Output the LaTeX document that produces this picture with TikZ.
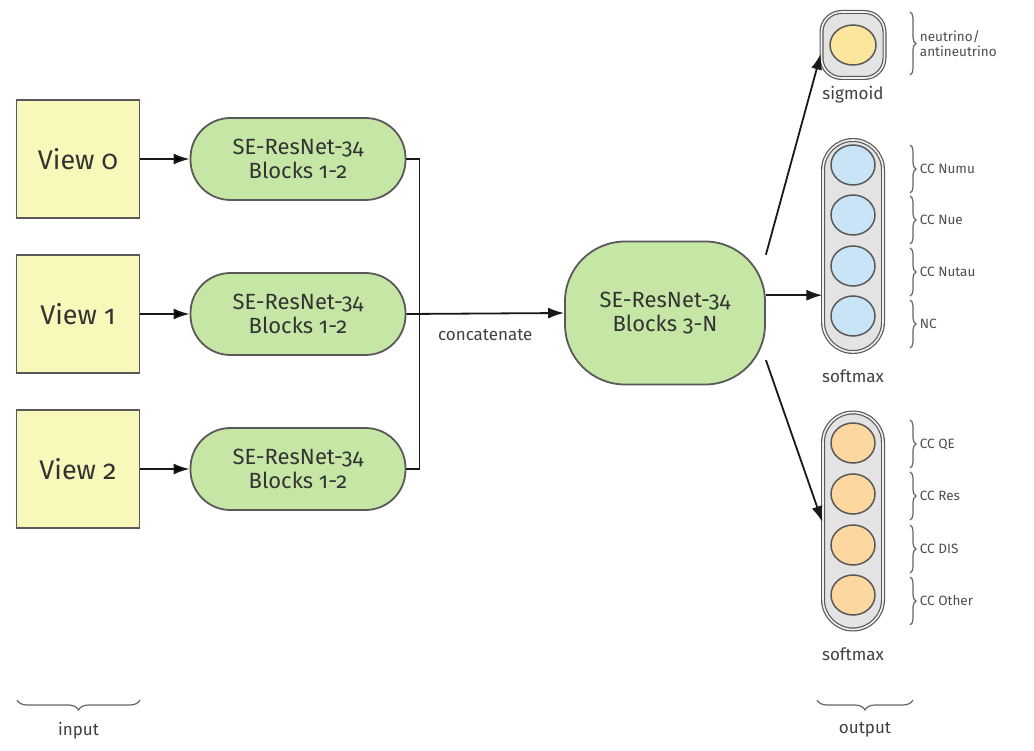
\documentclass[tikz,border=0pt]{standalone}
\usepackage{fontspec}
\setmainfont{Fira Sans}[Numbers=OldStyle]
\usetikzlibrary{arrows,arrows.meta,positioning,shapes.geometric,decorations.pathreplacing}
\definecolor{viewfill}{HTML}{F8F8BA}
\definecolor{blockfill}{HTML}{C6E6A6}
\definecolor{nufill}{HTML}{C8E4F6}
\definecolor{intfill}{HTML}{FCD7A0}
\definecolor{sigfill}{HTML}{FCE59C}
\tikzstyle{view}=[draw=black!65,fill=viewfill,line width=1.8pt,minimum width=123pt,minimum height=118pt,text=black!80,font=\fontsize{27}{29}\selectfont]
\tikzstyle{block}=[draw=black!65,fill=blockfill,line width=1.8pt,rounded corners=40pt,minimum width=215pt,minimum height=82pt,align=center,text=black!80,font=\fontsize{22}{24}\selectfont]
\tikzstyle{capsule}=[draw=black!65,line width=1.2pt,double=black!6,double distance=1.6pt,fill=black!11,rounded corners=30pt,minimum width=60pt]
\tikzstyle{dot}=[ellipse,draw=black!65,line width=1.5pt,minimum width=44pt,minimum height=40pt,inner sep=0pt]
\tikzstyle{lbl}=[text=black!75,font=\fontsize{17}{19}\selectfont]
\tikzstyle{cls}=[text=black!70,font=\fontsize{13.5}{15}\selectfont,align=left]
\tikzstyle{brc}=[draw=black!60,line width=1.2pt,decorate,decoration={brace,amplitude=6pt}]
\tikzstyle{link}=[draw=black!90,line width=1.8pt,>={Latex[length=16pt,width=11pt]}]

\begin{document}
\begin{tikzpicture}[x=1pt,y=-1pt,node distance=155pt]
  \useasboundingbox (0,0) rectangle (1034,751);

  % inputs
  \node[view] (v0) at (78,159) {View 0};
  \node[view] (v1) [below of=v0] {View 1};
  \node[view] (v2) [below of=v1] {View 2};

  \node[block] (b0) [right of=v0,node distance=220pt] {SE-ResNet-34\\Blocks 1-2};
  \node[block] (b1) [right of=v1,node distance=220pt] {SE-ResNet-34\\Blocks 1-2};
  \node[block] (b2) [right of=v2,node distance=220pt] {SE-ResNet-34\\Blocks 1-2};

  \node[block,minimum width=200pt,minimum height=143pt,rounded corners=60pt] (mid) at (665,313) {SE-ResNet-34\\Blocks 3-N};

  % outputs
  \node[capsule,minimum height=66pt,minimum width=63pt,rounded corners=20pt] (sig) at (853,45) {};
  \node[dot,fill=sigfill,minimum width=46pt] (s0) at (sig.center) {};
  \node[lbl] (siglbl) [below=4pt of sig] {sigmoid};

  \node[capsule,minimum height=212pt] (sm1) at (853,246) {};
  \node[dot,fill=nufill] (n0) at (853,165) {};
  \node[dot,fill=nufill] (n1) at (853,215) {};
  \node[dot,fill=nufill] (n2) at (853,266) {};
  \node[dot,fill=nufill] (n3) at (853,316) {};
  \node[lbl] (sm1lbl) [below=14pt of sm1] {softmax};

  \node[capsule,minimum height=217pt] (sm2) at (853,521) {};
  \node[dot,fill=intfill] (i0) at (853,443) {};
  \node[dot,fill=intfill] (i1) at (853,494) {};
  \node[dot,fill=intfill] (i2) at (853,545) {};
  \node[dot,fill=intfill] (i3) at (853,595) {};
  \node[lbl] (sm2lbl) [below=14pt of sm2] {softmax};

  % connectors
  \path[link,->] (v0) edge (b0)
    (v1) edge (b1)
    (v2) edge (b2);
  \draw[link] (b0.east) -- ++(13,0) |- (b2.east);
  \draw[link,->] (b1.east) -- node[lbl,below=12pt] {concatenate} (mid.west);
  \draw[link,->] (mid.30) -- (sig.195);
  \draw[link,->] (mid.10) -- (mid.10 -| sm1.west);
  \draw[link,->] (mid.-25) -- (sm2.182);

  % class braces
  \draw[brc] (910,12) -- (910,75) node[cls,midway,right=6pt] {neutrino/\\antineutrino};
  \draw[brc] (910,145) -- (910,193) node[cls,midway,right=6pt] {CC Numu};
  \draw[brc] (910,196) -- (910,244) node[cls,midway,right=6pt] {CC Nue};
  \draw[brc] (910,248) -- (910,296) node[cls,midway,right=6pt] {CC Nutau};
  \draw[brc] (910,300) -- (910,348) node[cls,midway,right=6pt] {NC};
  \draw[brc] (910,420) -- (910,468) node[cls,midway,right=6pt] {CC QE};
  \draw[brc] (910,472) -- (910,520) node[cls,midway,right=6pt] {CC Res};
  \draw[brc] (910,525) -- (910,573) node[cls,midway,right=6pt] {CC DIS};
  \draw[brc] (910,577) -- (910,625) node[cls,midway,right=6pt] {CC Other};

  \draw[brc,decoration={amplitude=10pt}] (140,700) -- (17,700) node[lbl,midway,below=18pt] {input};
  \draw[brc,decoration={amplitude=10pt}] (913,700) -- (817,700) node[lbl,midway,below=18pt] {output};
\end{tikzpicture}
\end{document}
